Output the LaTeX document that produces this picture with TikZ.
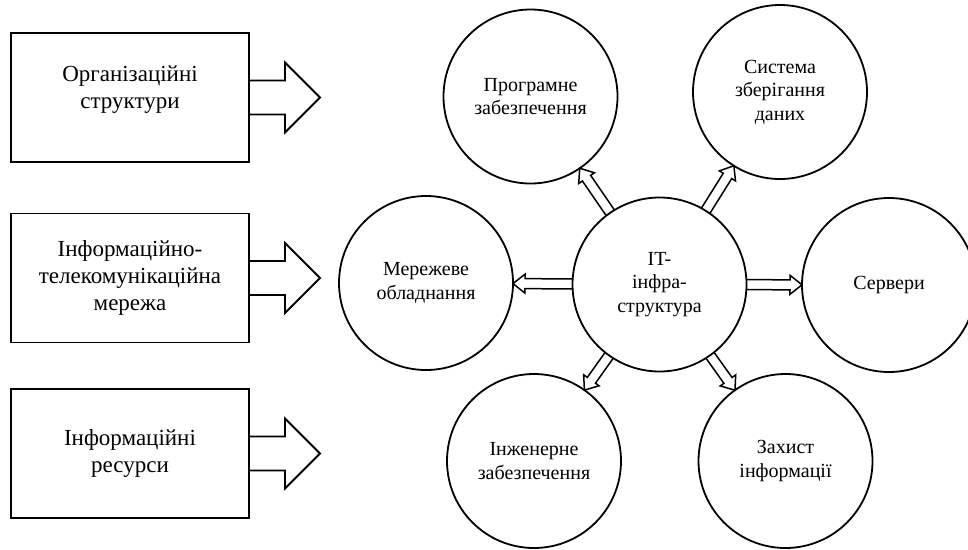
\documentclass[tikz,border=0pt]{standalone}
\usepackage{fontspec}
\setmainfont{Liberation Serif}
\usetikzlibrary{calc}
\tikzset{
  arrw/.store in=\arrw, arrW/.store in=\arrW, arrh/.store in=\arrh,
  arrs/.store in=\arrs, arre/.store in=\arre,
  box/.style={draw, line width=1.9pt, minimum width=238pt, minimum height=129pt,
    inner sep=0pt, align=center, font=\fontsize{23}{27}\selectfont},
  circ/.style={draw, circle, line width=1.8pt, minimum size=174pt, inner sep=0pt,
    align=center, font=\fontsize{20}{23.5}\selectfont},
  blockarrow/.style={line width=1.8pt, line join=miter, to path={
    let \p1=(\tikztostart), \p2=(\tikztotarget),
        \n1={atan2(\y2-\y1,\x2-\x1)},
        \n2={veclen(\x2-\x1,\y2-\y1)-\arre} in
    ([shift={(\p1)},rotate=\n1]\arrs,\arrw)
    -- ([shift={(\p1)},rotate=\n1]{\n2-\arrh},\arrw)
    -- ([shift={(\p1)},rotate=\n1]{\n2-\arrh},\arrW)
    -- ([shift={(\p1)},rotate=\n1]\n2,0)
    -- ([shift={(\p1)},rotate=\n1]{\n2-\arrh},-\arrW)
    -- ([shift={(\p1)},rotate=\n1]{\n2-\arrh},-\arrw)
    -- ([shift={(\p1)},rotate=\n1]\arrs,-\arrw)}},
  boxarrow/.style={blockarrow, arrw=17, arrW=35, arrh=35, arrs=0, arre=0},
  circarrow/.style={blockarrow, line width=1.5pt, arrw=5, arrW=9.5, arrh=12, arrs=87, arre=87},
}
\begin{document}
\begin{tikzpicture}[x=1pt,y=-1pt]
\useasboundingbox (0,0) rectangle (968,549);
% left boxes
\node[box] (b1) at (130,97.5) {Організаційні\\структури\\[-15pt]\strut};
\node[box] (b2) at (130,278) {Інформаційно-\\телекомунікаційна\\мережа};
\node[box] (b3) at (130,453.5) {Інформаційні\\ресурси};
\coordinate (t1) at (320,97.5);
\coordinate (t2) at (320,278);
\coordinate (t3) at (320,453.5);
\draw[boxarrow] (b1.east) to (t1);
\draw[boxarrow] (b2.east) to (t2);
\draw[boxarrow] (b3.east) to (t3);
% circles
\node[circ] (c)  at (659.5,284.5) {IT-\\інфра-\\структура};
\node[circ] (p)  at (530.5,96.5) {Програмне\\забезпечення};
\node[circ] (s)  at (780,92) {Система\\зберігання\\даних};
\node[circ] (m)  at (426,283) {Мережеве\\обладнання};
\node[circ] (sv) at (889,285) {Сервери};
\node[circ] (i)  at (534,461) {Інженерне\\забезпечення};
\node[circ] (z)  at (785.5,461) {Захист\\інформації};
% arrows
\draw[circarrow] (c) to (p);
\draw[circarrow] (c) to (s);
\draw[circarrow] (c) to (m);
\draw[circarrow] (c) to (sv);
\draw[circarrow] (c) to (i);
\draw[circarrow] (c) to (z);
\end{tikzpicture}
\end{document}
